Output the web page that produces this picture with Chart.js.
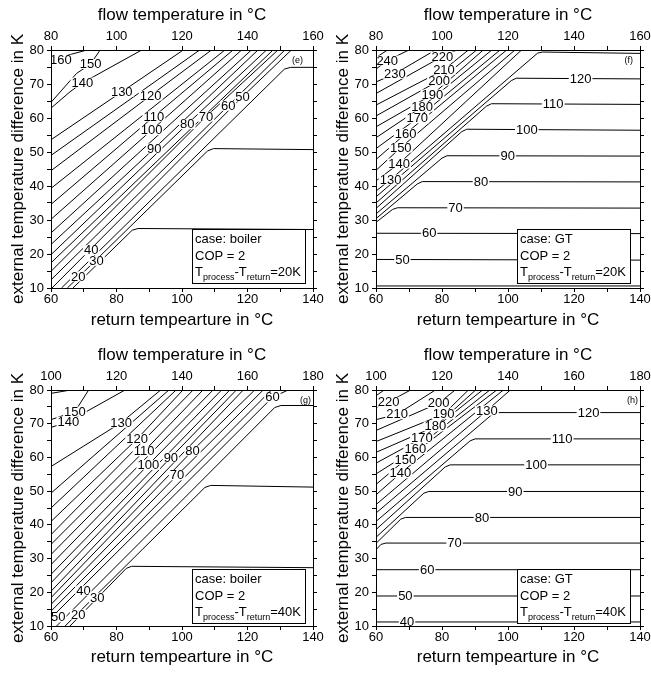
<!DOCTYPE html>
<html>
<head>
<meta charset="utf-8">
<script src="https://cdn.jsdelivr.net/npm/chart.js@4.4.1/dist/chart.umd.min.js"></script>
<style>
  body { margin: 0; background: #fff; }
  #wrap { position: relative; width: 651px; height: 674px; }
  #wrap canvas { position: absolute; left: 0; top: 0; }
</style>
</head>
<body>
<div id="wrap">
  <canvas id="chartE" width="651" height="674"></canvas>
  <canvas id="chartF" width="651" height="674"></canvas>
  <canvas id="chartG" width="651" height="674"></canvas>
  <canvas id="chartH" width="651" height="674"></canvas>
</div>
<script>
// tick labels
const returnTicks = [60, 80, 100, 120, 140];
const flowTicks20 = [80, 100, 120, 140, 160];
const flowTicks40 = [100, 120, 140, 160, 180];
const deltaTicks = [10, 20, 30, 40, 50, 60, 70, 80];

// contour lines, [return temperature, temperature difference]
const eLines = [
  [[60, 77.0], [66, 78.7], [71, 80]],
  [[60, 64.6], [67.8, 73.1], [72.1, 75.9], [75, 80]],
  [[60, 62.9], [65.8, 67.7], [69.6, 70.4], [72.9, 72.1], [87.7, 80]],
  [[60, 53.6], [81.6, 67.7], [100.4, 80]],
  [[60, 49.0], [105.4, 80]],
  [[60, 44.5], [90.4, 66.6], [109.0, 80]],
  [[60, 39.3], [113.1, 80]],
  [[60, 34.6], [91.4, 60.4], [115.6, 80]],
  [[60, 30.2], [90.7, 56.4], [118.2, 80]],
  [[60, 26.2], [121.2, 80]],
  [[60, 22.8], [91.5, 51.0], [123.2, 80]],
  [[60, 19.8], [101.6, 58.2], [125.8, 80]],
  [[60, 17.4], [127.8, 80]],
  [[60, 14.9], [107.3, 60.4], [129.3, 80]],
  [[60, 12.4], [114.1, 63.6], [131.4, 80]],
  [[60.3, 10], [118.5, 66.3], [133.4, 80]],
  [[63.2, 10], [131.3, 74.4], [133.2, 74.9], [140, 74.9]],
  [[65.0, 10], [107.8, 50.3], [109.6, 51.0], [140, 50.7]],
  [[66.7, 10], [84.8, 27.0], [86.6, 27.5], [140, 27.2]]
];
const eLabels = [
  ['160', 63.0, 77.1], ['150', 72.1, 75.9], ['140', 69.6, 70.4], ['130', 81.6, 67.7],
  ['120', 90.4, 66.6], ['110', 91.4, 60.4], ['100', 90.7, 56.4], ['90', 91.5, 51.0],
  ['80', 101.6, 58.2], ['70', 107.3, 60.4], ['60', 114.1, 63.6], ['50', 118.5, 66.3],
  ['40', 72.3, 21.1], ['30', 73.9, 18.0], ['20', 68.3, 13.4]
];

const fLines = [
  [[60, 77.8], [63.5, 80]],
  [[60, 74.4], [63.4, 76.9], [70.0, 80]],
  [[60, 70.6], [65.7, 73.0], [78.0, 80]],
  [[60, 67.2], [80.1, 78.1], [84.5, 80]],
  [[60, 63.8], [80.6, 74.2], [88.0, 80]],
  [[60, 60.6], [79.1, 71.0], [90.5, 80]],
  [[60, 57.4], [77.1, 66.9], [92.5, 80]],
  [[60, 54.2], [74.0, 63.3], [95.1, 80]],
  [[60, 51.0], [72.5, 59.9], [97.6, 80]],
  [[60, 47.8], [69.0, 55.4], [99.6, 80]],
  [[60, 44.6], [67.5, 51.3], [102.1, 80]],
  [[60, 41.5], [67.0, 46.6], [104.1, 80]],
  [[60, 38.5], [64.4, 41.9], [109.0, 79.1], [110.5, 79.4], [140, 79.0]],
  [[60, 36.8], [101.0, 71.0], [102.5, 71.7], [140, 71.5]],
  [[60, 35.0], [93.5, 63.5], [95.0, 64.2], [140, 64.0]],
  [[60, 33.4], [86.0, 56.0], [87.5, 56.7], [140, 56.4]],
  [[60, 31.8], [80.0, 48.2], [81.5, 48.9], [140, 48.8]],
  [[60, 30.4], [72.5, 40.6], [74.0, 41.3], [140, 41.2]],
  [[60, 29.3], [65.0, 33.1], [66.5, 33.6], [140, 33.5]],
  [[60, 26.1], [140, 26.0]],
  [[60, 18.4], [140, 18.2]],
  [[60, 10.6], [140, 10.6]]
];
const fLabels = [
  ['240', 63.4, 76.9], ['230', 65.7, 73.0], ['220', 80.1, 78.1], ['210', 80.6, 74.2],
  ['200', 79.1, 71.0], ['190', 77.1, 66.9], ['180', 74.0, 63.3], ['170', 72.5, 59.9],
  ['160', 69.0, 55.4], ['150', 67.5, 51.3], ['140', 67.0, 46.6], ['130', 64.4, 41.9],
  ['120', 122.0, 71.6], ['110', 113.7, 64.1], ['100', 105.7, 56.5], ['90', 99.9, 48.8],
  ['80', 91.8, 41.2], ['70', 84.1, 33.5], ['60', 76.1, 26.1], ['50', 68.0, 18.3]
];

const gLines = [
  [[60, 79.0], [66, 80]],
  [[60, 71.2], [67.3, 73.6], [71.5, 80]],
  [[60, 68.9], [65.3, 70.6], [82.6, 80]],
  [[60, 57.3], [81.4, 70.3], [93.5, 80]],
  [[60, 49.4], [96.0, 80]],
  [[60, 45.0], [98.2, 80]],
  [[60, 41.0], [86.3, 65.5], [100.3, 80]],
  [[60, 37.1], [103.4, 80]],
  [[60, 34.2], [88.4, 61.8], [106.4, 80]],
  [[60, 31.2], [109.5, 80]],
  [[60, 28.2], [89.7, 57.8], [112.1, 80]],
  [[60, 25.3], [114.6, 80]],
  [[60, 22.8], [96.6, 60.0], [116.6, 80]],
  [[60, 20.3], [118.7, 80]],
  [[60, 18.4], [103.2, 62.0], [122.2, 80]],
  [[60, 16.4], [98.5, 54.7], [124.8, 80]],
  [[60, 14.4], [127.3, 80]],
  [[60, 12.4], [127.6, 77.8], [132.4, 80]],
  [[61.7, 10], [128.3, 74.8], [130.2, 75.4], [140, 75.4]],
  [[64.3, 10], [107.0, 51.1], [108.8, 51.7], [140, 51.2]],
  [[65.8, 10], [83.0, 27.1], [84.6, 27.7], [140, 27.3]]
];
const gLabels = [
  ['150', 67.3, 73.6], ['140', 65.3, 70.6], ['130', 81.4, 70.3], ['120', 86.3, 65.5],
  ['110', 88.4, 61.8], ['100', 89.7, 57.8], ['90', 96.6, 60.0], ['80', 103.2, 62.0],
  ['70', 98.5, 54.7], ['60', 127.6, 77.8], ['50', 62.2, 12.6], ['40', 69.9, 20.5],
  ['30', 74.1, 18.4], ['20', 68.3, 13.4]
];

const hLines = [
  [[60, 78.3], [62.5, 80]],
  [[60, 74.8], [63.8, 76.5], [70.5, 80]],
  [[60, 71.2], [66.4, 72.8], [78.0, 80]],
  [[60, 68.0], [79.0, 76.1], [84.0, 80]],
  [[60, 64.7], [80.5, 72.8], [88.0, 80]],
  [[60, 61.5], [78.0, 69.2], [90.2, 80]],
  [[60, 58.3], [73.9, 65.7], [92.3, 80]],
  [[60, 55.1], [71.9, 62.5], [94.5, 80]],
  [[60, 52.0], [68.9, 59.3], [96.6, 80]],
  [[60, 48.9], [67.4, 55.3], [98.6, 80]],
  [[60, 46.0], [93.6, 73.9], [100.7, 80]],
  [[60, 43.5], [95.0, 72.6], [97.0, 73.3], [140, 73.3]],
  [[60, 41.0], [88.5, 64.9], [90.0, 65.5], [140, 65.5]],
  [[60, 38.6], [81.0, 57.2], [82.5, 57.8], [140, 57.8]],
  [[60, 36.3], [74.5, 49.4], [76.0, 49.9], [140, 49.9]],
  [[60, 34.5], [67.5, 41.7], [69.0, 42.2], [140, 42.2]],
  [[60, 32.6], [61.5, 34.2], [63.0, 34.6], [140, 34.6]],
  [[60, 26.7], [140, 26.7]],
  [[60, 18.9], [140, 18.9]],
  [[60, 11.2], [140, 11.2]]
];
const hLabels = [
  ['220', 63.8, 76.5], ['210', 66.4, 72.8], ['200', 79.0, 76.1], ['190', 80.5, 72.8],
  ['180', 78.0, 69.2], ['170', 73.9, 65.7], ['160', 71.9, 62.5], ['150', 68.9, 59.3],
  ['140', 67.4, 55.3], ['130', 93.6, 73.9], ['120', 124.4, 73.3], ['110', 116.4, 65.5],
  ['100', 108.5, 57.8], ['90', 102.2, 49.9], ['80', 92.1, 42.2], ['70', 83.8, 34.6],
  ['60', 75.5, 26.7], ['50', 68.9, 18.9], ['40', 69.4, 11.2]
];

const FONT = "'Liberation Sans', Arial, sans-serif";
Chart.defaults.font.family = FONT;
Chart.defaults.color = '#000';

// contour labels, case box and panel tag
const contourText = {
  id: 'contourText',
  afterDatasetsDraw(chart, args, opts) {
    const { ctx, chartArea: a } = chart;
    const sx = chart.scales.x, sy = chart.scales.y;
    ctx.save();
    ctx.font = '13px ' + FONT;
    ctx.textAlign = 'center';
    ctx.textBaseline = 'middle';
    for (const [t, lx, ly] of opts.labels) {
      const px = sx.getPixelForValue(lx), py = sy.getPixelForValue(ly);
      const w = ctx.measureText(t).width;
      ctx.fillStyle = '#fff';
      ctx.fillRect(px - w / 2 - 1, py - 5, w + 2, 10);
      ctx.fillStyle = '#000';
      ctx.fillText(t, px, py + 0.5);
    }

    ctx.font = '9px ' + FONT;
    ctx.textAlign = 'right';
    ctx.textBaseline = 'alphabetic';
    ctx.fillText(opts.tag, a.right - opts.tagRight, a.top + 13);

    const bx = Math.round(a.left + 141) + 0.5, by = Math.round(a.top + 179) + 0.5;
    ctx.fillStyle = '#fff';
    ctx.fillRect(bx, by, 113, 54);
    ctx.strokeStyle = '#000';
    ctx.lineWidth = 1;
    ctx.strokeRect(bx, by, 113, 54);
    ctx.fillStyle = '#000';
    ctx.textAlign = 'left';
    ctx.font = '13px ' + FONT;
    const tx = bx + 2.5;
    ctx.fillText('case: ' + opts.caseName, tx, by + 13.5);
    ctx.fillText('COP = 2', tx, by + 30);
    let cx = tx;
    const base = by + 46.5;
    const part = (s, size, dy) => {
      ctx.font = size + 'px ' + FONT;
      ctx.fillText(s, cx, base + dy);
      cx += ctx.measureText(s).width;
    };
    part('T', 13, 0);
    part('process', 9, 3.8);
    part('-T', 13, 0);
    part('return', 9, 3.8);
    part('=' + opts.diff, 13, 0);
    ctx.restore();
  }
};

function drawPanel(id, lines, labels, flowTicks, pad, bottomH, bottomPad, caseName, diff, tag, tagRight) {
  const grid = { drawOnChartArea: false, color: '#000', tickLength: 4, tickWidth: 1 };
  const border = { color: '#000', width: 1, z: 1 };
  new Chart(document.getElementById(id), {
    type: 'scatter',
    data: {
      datasets: lines.map(l => ({
        data: l.map(([x, y]) => ({ x, y })),
        showLine: true,
        borderColor: '#000',
        borderWidth: 1,
        pointRadius: 0,
        pointHoverRadius: 0,
        tension: 0,
        xAxisID: 'x',
        yAxisID: 'y'
      }))
    },
    options: {
      responsive: false,
      animation: false,
      events: [],
      layout: { padding: pad },
      plugins: {
        legend: { display: false },
        tooltip: { enabled: false },
        contourText: { labels, caseName, diff, tag, tagRight }
      },
      scales: {
        x: {
          type: 'linear', position: 'bottom', min: 60, max: 140,
          ticks: { stepSize: 10, autoSkip: false, maxRotation: 0, padding: 0, font: { size: 13 },
                   callback: v => returnTicks.includes(v) ? String(v) : '' },
          grid, border,
          title: { display: true, text: 'return tempearture in °C', font: { size: 17 },
                   padding: { top: 0, bottom: bottomPad } },
          afterFit: s => { s.height = bottomH; s.paddingLeft = 0; s.paddingRight = 0; }
        },
        xt: {
          type: 'linear', position: 'top', min: flowTicks[0], max: flowTicks[flowTicks.length - 1],
          ticks: { stepSize: 10, autoSkip: false, maxRotation: 0, padding: 2, font: { size: 13 },
                   callback: v => flowTicks.includes(v) ? String(v) : '' },
          grid, border,
          title: { display: true, text: 'flow temperature in °C', font: { size: 17 },
                   padding: { top: 5.5, bottom: 0 } },
          afterFit: s => { s.height = 50; s.paddingLeft = 0; s.paddingRight = 0; }
        },
        y: {
          type: 'linear', position: 'left', min: 10, max: 80,
          ticks: { stepSize: 5, autoSkip: false, padding: 3, font: { size: 13 },
                   callback: v => deltaTicks.includes(v) ? String(v) : '' },
          grid, border,
          title: { display: true, text: 'external temperature difference in K', font: { size: 17 },
                   padding: { top: 8, bottom: 0 } },
          afterFit: s => { s.width = 51; s.paddingTop = 0; s.paddingBottom = 0; }
        },
        yr: {
          type: 'linear', position: 'right', min: 10, max: 80,
          ticks: { stepSize: 5, autoSkip: false, display: false },
          grid, border,
          afterFit: s => { s.width = 0; s.paddingTop = 0; s.paddingBottom = 0; }
        }
      }
    },
    plugins: [contourText]
  });
}

drawPanel('chartE', eLines, eLabels, flowTicks20, { left: 0, top: 0, right: 338, bottom: 337 }, 49, 6, 'boiler', '20K', '(e)', 10);
drawPanel('chartF', fLines, fLabels, flowTicks20, { left: 325, top: 0, right: 11, bottom: 337 }, 49, 6, 'GT', '20K', '(f)', 7);
drawPanel('chartG', gLines, gLabels, flowTicks40, { left: 0, top: 340, right: 338, bottom: 0 }, 48, 6.5, 'boiler', '40K', '(g)', 2);
drawPanel('chartH', hLines, hLabels, flowTicks40, { left: 325, top: 340, right: 11, bottom: 0 }, 48, 6.5, 'GT', '40K', '(h)', 2);
</script>
</body>
</html>
